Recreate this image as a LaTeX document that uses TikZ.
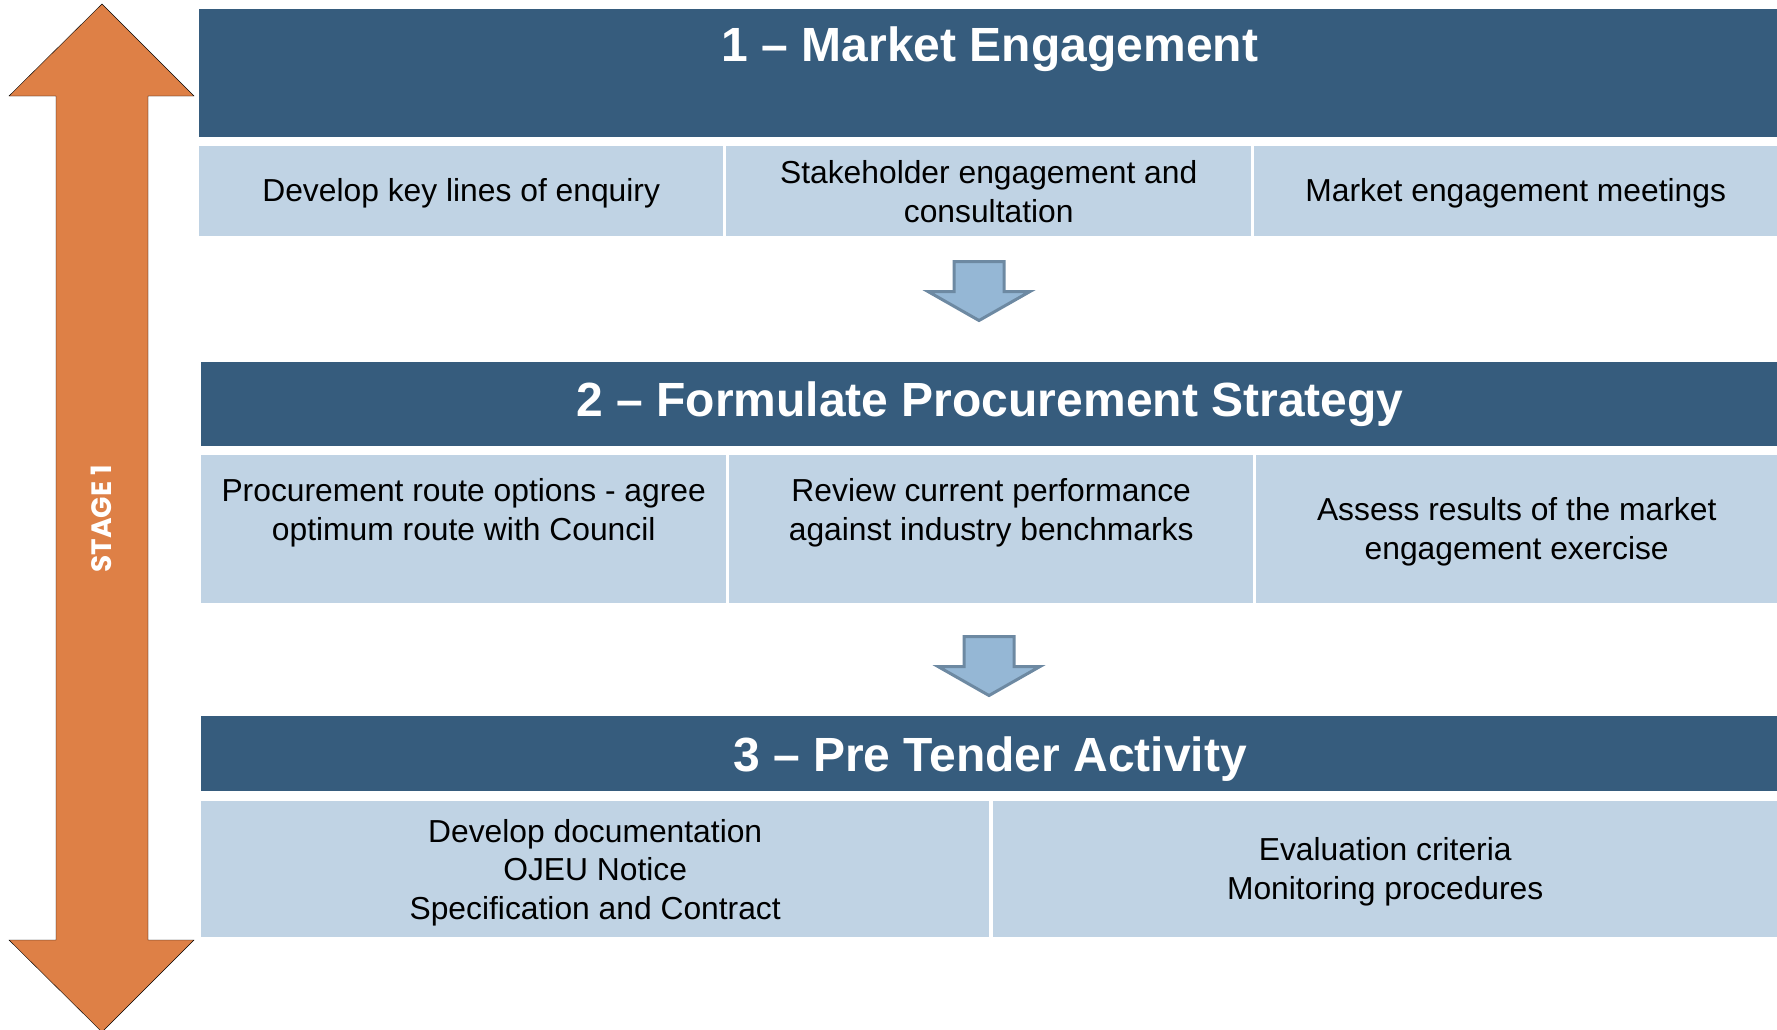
\documentclass[tikz,border=0pt]{standalone}
\usepackage{fontspec}
\setmainfont{Liberation Sans}
\newfontfamily\stagefont{Poppins}
\definecolor{hdrblue}{HTML}{365C7D}
\definecolor{cellblue}{HTML}{C0D3E4}
\definecolor{stageorange}{HTML}{DE8046}
\definecolor{flowfill}{HTML}{95B7D5}
\definecolor{flowline}{HTML}{6D89A2}
% block arrow pointing down: name, centre x, top y
\newcommand\flowarrow[3]{%
  \draw[flowarr] (#2-25,#3) coordinate (#1) -- (#2+25,#3) -- (#2+25,#3+30)
    -- (#2+51,#3+30) -- (#2,#3+59) -- (#2-51,#3+30) -- (#2-25,#3+30) -- cycle;}
% table cell: name, left x, top y, width, height, vertical text offset, text
\newcommand\tcell[7]{%
  \node[cellbox, minimum width=#4, minimum height=#5] (#1) at (#2,#3) {};
  \node[celltext, yshift=#6pt] (#1-t) at (#1.center) {#7};}
\begin{document}
\begin{tikzpicture}[x=1pt,y=-1pt,
  header/.style={fill=hdrblue, inner sep=0pt, anchor=north west},
  cellbox/.style={fill=cellblue, inner sep=0pt, anchor=north west},
  celltext/.style={inner sep=0pt, align=center, text=black,
    font=\fontsize{31.8}{38.5}\selectfont},
  titletext/.style={text=white, inner sep=0pt, font=\fontsize{48}{58}\selectfont\bfseries},
  flowarr/.style={fill=flowfill, draw=flowline, line width=3pt, line join=miter},
  stagearrow/.style={fill=stageorange},
]
\useasboundingbox (0,0) rectangle (1777,1029);

% stage arrow on the left
\draw[stagearrow] (102,4) -- (194,96) -- (148,96) -- (148,940) -- (194,940)
  -- (102,1032) -- (9,940) -- (56,940) -- (56,96) -- (9,96) -- cycle;
\node[text=white, rotate=90, inner sep=0pt,
  font=\stagefont\fontsize{28}{30}\selectfont\bfseries] (stage) at (101,519) {STAGE 1};

% 1 - market engagement
\node[header, minimum width=1578, minimum height=128] (h1) at (199,9) {};
\node[titletext] (t1) at (990,49.5) {1 – Market Engagement};
\tcell{c11}{199}{146}{524}{90}{-2.5}{Develop key lines of enquiry}
\tcell{c12}{726}{146}{525}{90}{-0.5}{Stakeholder engagement and\\consultation}
\tcell{c13}{1254}{146}{523}{90}{-2.5}{Market engagement meetings}

\flowarrow{f1}{979}{261.5}

% 2 - formulate procurement strategy
\node[header, minimum width=1576, minimum height=84] (h2) at (201,362) {};
\node[titletext] (t2) at (990,404.5) {2 – Formulate Procurement Strategy};
\tcell{c21}{201}{455}{525}{148}{16.5}{Procurement route options - agree\\optimum route with Council}
\tcell{c22}{729}{455}{524}{148}{16.5}{Review current performance\\against industry benchmarks}
\tcell{c23}{1256}{455}{521}{148}{-2.8}{Assess results of the market\\engagement exercise}

\flowarrow{f2}{989}{636.5}

% 3 - pre tender activity
\node[header, minimum width=1576, minimum height=75] (h3) at (201,716) {};
\node[titletext] (t3) at (990,759) {3 – Pre Tender Activity};
\tcell{c31}{201}{801}{788}{136}{-3.4}{Develop documentation\\OJEU Notice\\Specification and Contract}
\tcell{c32}{993}{801}{784}{136}{-2.8}{Evaluation criteria\\Monitoring procedures}
\end{tikzpicture}
\end{document}
